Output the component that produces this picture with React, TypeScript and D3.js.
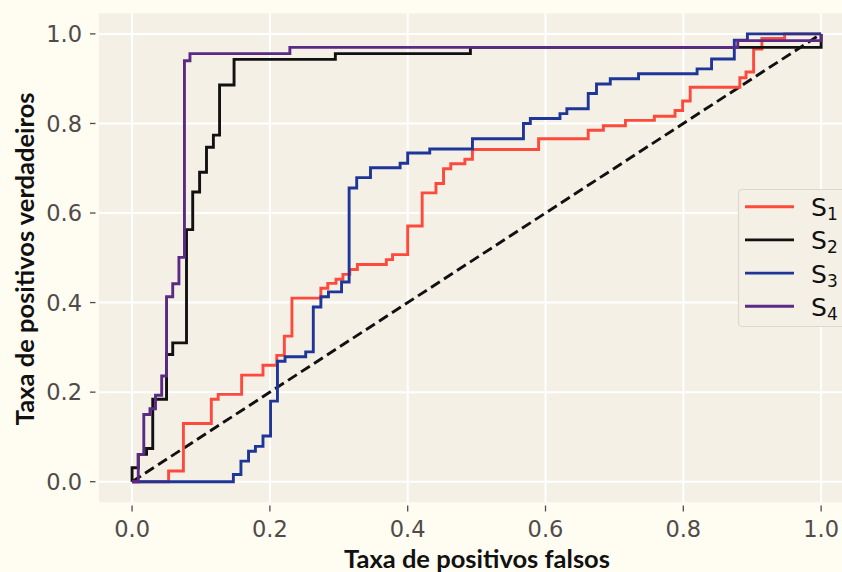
import React from "react";
import * as d3 from "d3";

// ROC step corners (stepAfter): at each fpr the curve jumps to the tpr value
const s1Fpr = [0, 0.053, 0.0745, 0.115, 0.125, 0.159, 0.19, 0.21, 0.221, 0.232, 0.274, 0.284, 0.296, 0.306, 0.316, 0.327, 0.369, 0.378, 0.4, 0.421, 0.441, 0.452, 0.4625, 0.483, 0.494, 0.59, 0.662, 0.684, 0.716, 0.758, 0.788, 0.799, 0.81, 0.882, 0.891, 0.902, 0.914, 0.947, 1.0];
const s1Tpr = [0, 0.024, 0.13, 0.184, 0.195, 0.238, 0.26, 0.282, 0.325, 0.41, 0.432, 0.443, 0.452, 0.463, 0.474, 0.485, 0.496, 0.507, 0.571, 0.645, 0.666, 0.699, 0.71, 0.72, 0.742, 0.766, 0.785, 0.795, 0.807, 0.816, 0.829, 0.85, 0.881, 0.902, 0.915, 0.966, 0.99, 1.0, 1.0];

const s2Fpr = [0, 0, 0.009, 0.021, 0.03, 0.05, 0.059, 0.079, 0.088, 0.098, 0.108, 0.118, 0.127, 0.148, 0.295, 0.491, 1.0];
const s2Tpr = [0, 0.031, 0.061, 0.074, 0.184, 0.284, 0.31, 0.563, 0.647, 0.691, 0.747, 0.774, 0.886, 0.943, 0.956, 0.97, 1.0];

const s3Fpr = [0, 0.147, 0.158, 0.169, 0.179, 0.19, 0.201, 0.211, 0.222, 0.252, 0.263, 0.274, 0.285, 0.304, 0.315, 0.326, 0.346, 0.389, 0.4, 0.432, 0.494, 0.568, 0.578, 0.621, 0.631, 0.662, 0.674, 0.694, 0.735, 0.82, 0.841, 0.874, 0.893, 1.0];
const s3Tpr = [0, 0.016, 0.046, 0.068, 0.079, 0.102, 0.18, 0.269, 0.279, 0.29, 0.39, 0.413, 0.424, 0.446, 0.656, 0.679, 0.701, 0.711, 0.734, 0.743, 0.766, 0.8, 0.811, 0.822, 0.833, 0.867, 0.888, 0.9, 0.911, 0.922, 0.944, 0.986, 1.0, 1.0];

const s4Fpr = [0, 0.009, 0.017, 0.026, 0.034, 0.043, 0.05, 0.059, 0.068, 0.076, 0.084, 0.229, 0.879, 1.0];
const s4Tpr = [0, 0.061, 0.15, 0.163, 0.193, 0.236, 0.413, 0.442, 0.501, 0.94, 0.956, 0.97, 0.985, 1.0];

const seriesNames = ["1", "2", "3", "4"];
const seriesColors = ["#fd4a3d", "#111111", "#1f3699", "#5b2a84"];
const tickValues = [0, 0.2, 0.4, 0.6, 0.8, 1.0];
const xLabel = "Taxa de positivos falsos";
const yLabel = "Taxa de positivos verdadeiros";

const W = 842;
const H = 572;
const L = 99, R = 854.2, T = 13.3, B = 502.3;

export default function App() {
  const x = d3.scaleLinear().domain([-0.048, 1.048]).range([L, R]);
  const y = d3.scaleLinear().domain([-0.046, 1.046]).range([B, T]);
  const line = d3
    .line<[number, number]>()
    .x((d) => x(d[0]))
    .y((d) => y(d[1]))
    .curve(d3.curveStepAfter);
  const series = [
    [s1Fpr, s1Tpr],
    [s2Fpr, s2Tpr],
    [s3Fpr, s3Tpr],
    [s4Fpr, s4Tpr],
  ].map(([f, t]) => f.map((v, i) => [v, t[i]] as [number, number]));
  const diag = d3.line<[number, number]>().x((d) => x(d[0])).y((d) => y(d[1]))([
    [0, 0],
    [1, 1],
  ]);
  const tickFont = "'DejaVu Sans', sans-serif";
  const labelFont = "Lato, 'Open Sans', sans-serif";
  const tickColor = "#514a4b";
  const legX = 738.5, legY = 189.5;
  return (
    <svg width={W} height={H} style={{ position: "absolute", left: 0, top: 0, display: "block" }}>
      <rect x={0} y={0} width={W} height={H} fill="#fffdf2" />
      <rect x={L} y={T} width={R - L} height={B - T} fill="#f4f0e6" />
      {tickValues.map((v) => (
        <g key={"g" + v}>
          <line x1={x(v)} x2={x(v)} y1={T} y2={B} stroke="#ffffff" strokeWidth={2} />
          <line x1={L} x2={R} y1={y(v)} y2={y(v)} stroke="#ffffff" strokeWidth={2} />
        </g>
      ))}
      {tickValues.map((v) => (
        <g key={"t" + v} fill={tickColor} fontFamily={tickFont} fontSize={22.5}>
          <line x1={x(v)} x2={x(v)} y1={505.5} y2={511.5} stroke={tickColor} strokeWidth={1.3} />
          <text x={x(v)} y={536.5} textAnchor="middle">{v.toFixed(1)}</text>
          <line x1={90} x2={95.5} y1={y(v)} y2={y(v)} stroke={tickColor} strokeWidth={1.3} />
          <text x={82} y={y(v) + 8.3} textAnchor="end">{v.toFixed(1)}</text>
        </g>
      ))}
      <g clipPath="url(#plotclip)">
        <path d={diag || ""} stroke="#111111" strokeWidth={2.9} strokeDasharray="10.5,5" fill="none" />
        {series.map((pts, i) => (
          <path
            key={"s" + i}
            d={line(pts) || ""}
            stroke={seriesColors[i]}
            strokeWidth={2.9}
            fill="none"
            strokeLinejoin="miter"
            strokeLinecap="butt"
          />
        ))}
      </g>
      <defs>
        <clipPath id="plotclip">
          <rect x={L} y={T} width={R - L} height={B - T} />
        </clipPath>
      </defs>
      <rect x={legX} y={legY} width={130} height={137} rx={4} fill="#f4f0e6" stroke="#dcd8cf" strokeWidth={1.2} />
      {seriesNames.map((n, i) => {
        const ly = 206.7 + i * 33.2;
        return (
          <g key={"l" + n}>
            <line x1={745} x2={794} y1={ly} y2={ly} stroke={seriesColors[i]} strokeWidth={2.9} />
            <text x={811} y={ly + 9.5} fontFamily={tickFont} fontSize={25} fill="#111111">
              S<tspan fontSize={17} dy={4}>{n}</tspan>
            </text>
          </g>
        );
      })}
      <text x={477} y={568} textAnchor="middle" fontFamily={labelFont} fontWeight="bold" fontSize={25.5} fill="#111111">
        {xLabel}
      </text>
      <text
        transform={`translate(34,${(T + B) / 2 + 1}) rotate(-90)`}
        textAnchor="middle"
        fontFamily={labelFont}
        fontWeight="bold"
        fontSize={25.5}
        fill="#111111"
      >
        {yLabel}
      </text>
    </svg>
  );
}
